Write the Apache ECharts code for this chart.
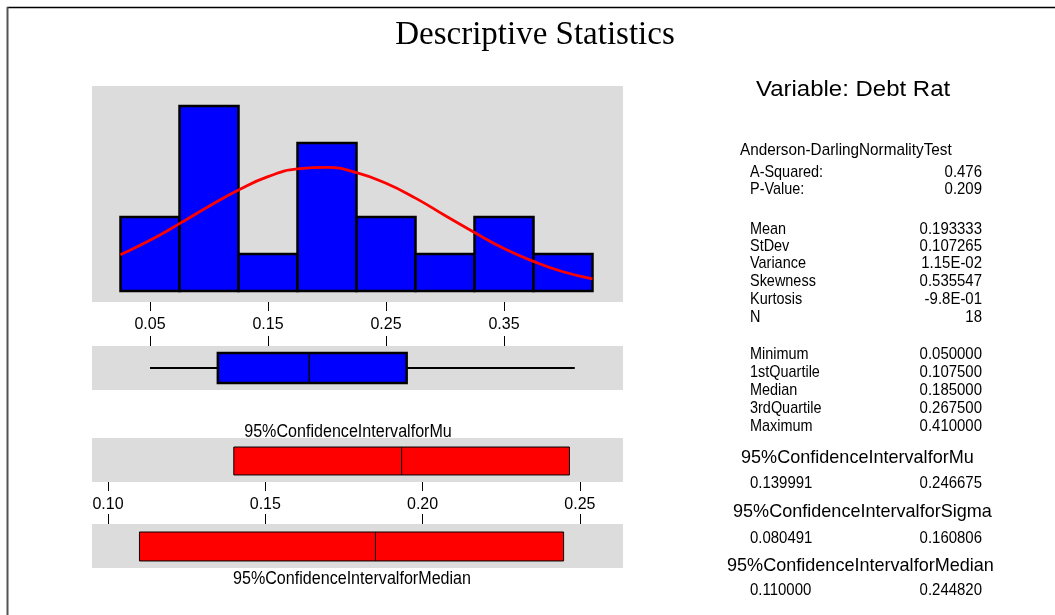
<!DOCTYPE html>
<html>
<head>
<meta charset="utf-8">
<title>Descriptive Statistics</title>
<script src="https://cdn.jsdelivr.net/npm/echarts@6.0.0/dist/echarts.min.js"></script>
<style>
  html, body { margin: 0; padding: 0; background: #fff; }
  #chart { width: 1055px; height: 615px; }
</style>
</head>
<body>
<div id="chart"></div>
<script>
// ---- data: Debt Rat sample (N = 18) ----
const binEdges  = [0.025, 0.075, 0.125, 0.175, 0.225, 0.275, 0.325, 0.375, 0.425];
const binCounts = [2, 5, 1, 4, 2, 1, 2, 1];

// fitted normal curve, expressed in counts per bin
const fitX = [0.025, 0.05, 0.075, 0.10, 0.125, 0.15, 0.175, 0.20, 0.225,
              0.25, 0.275, 0.30, 0.325, 0.35, 0.375, 0.40, 0.425];
const fitY = [0.98, 1.37, 1.82, 2.29, 2.73, 3.09, 3.30, 3.34, 3.20,
              2.91, 2.51, 2.04, 1.58, 1.15, 0.80, 0.52, 0.33];

const histTicks = [0.05, 0.15, 0.25, 0.35];
const ciTicks   = [0.10, 0.15, 0.20, 0.25];

// min, Q1, median, Q3, max
const boxStats   = [0.05, 0.1075, 0.185, 0.2675, 0.41];
// lower, centre, upper
const ciMu       = [0.139991, 0.193333, 0.246675];
const ciMedian   = [0.110000, 0.185000, 0.244820];

const titleText    = 'Descriptive Statistics';
const variableText = 'Variable: Debt Rat';
const adTitle      = 'Anderson-DarlingNormalityTest';
const adLabels     = ['A-Squared:', 'P-Value:'];
const adValues     = ['0.476', '0.209'];
const momentLabels = ['Mean', 'StDev', 'Variance', 'Skewness', 'Kurtosis', 'N'];
const momentValues = ['0.193333', '0.107265', '1.15E-02', '0.535547', '-9.8E-01', '18'];
const quantLabels  = ['Minimum', '1stQuartile', 'Median', '3rdQuartile', 'Maximum'];
const quantValues  = ['0.050000', '0.107500', '0.185000', '0.267500', '0.410000'];
const ciHeaders    = ['95%ConfidenceIntervalforMu', '95%ConfidenceIntervalforSigma', '95%ConfidenceIntervalforMedian'];
const ciBounds     = [['0.139991', '0.246675'], ['0.080491', '0.160806'], ['0.110000', '0.244820']];

// ---- drawing ----
const SANS = '"Liberation Sans", Arial, sans-serif';
const SERIF = '"Liberation Serif", "Times New Roman", serif';
const PANEL = '#DCDCDC';
const BLUE = '#0000FF';
const RED = '#FF0000';

// shared horizontal scales of the left-hand panels
const histMin = 0.05 - 58 / 1180, histMax = 0.05 + 473 / 1180;
const ciMin = 0.10 - 16 / 3146, ciMax = 0.10 + 515 / 3146;

function panelGrid(top, height) {
  return { left: 92, top: top, width: 531, height: height,
           show: true, backgroundColor: PANEL, borderWidth: 0 };
}

function xAxisFor(gridIndex, min, max, ticks, position, showLabels, tickLen) {
  return {
    type: 'value', gridIndex: gridIndex, min: min, max: max, position: position,
    axisLine: { show: false, onZero: false },
    splitLine: { show: false },
    axisTick: { show: true, length: tickLen, customValues: ticks,
                lineStyle: { color: '#000', width: 1 } },
    axisLabel: { show: showLabels, customValues: ticks, margin: 15,
                 fontSize: 16, fontFamily: SANS, color: '#000',
                 formatter: v => v.toFixed(2) }
  };
}

function yAxisFor(gridIndex, min, max) {
  return { type: 'value', gridIndex: gridIndex, min: min, max: max, show: false,
           splitLine: { show: false } };
}

function text(str, x, y, size, align, sx, family) {
  return {
    type: 'text', x: x, y: y, scaleX: sx || 1, silent: true,
    style: { text: str, fontSize: size, fontFamily: family || SANS, fill: '#000',
             align: align, textAlign: align,
             verticalAlign: 'middle', textVerticalAlign: 'middle' }
  };
}

// horizontal box drawn from [low, mid, high] or [min, q1, median, q3, max]
function horizontalBox(fill, border, midWidth, yLo, yHi, whiskers) {
  return function (params, api) {
    const n = whiskers ? 5 : 3;
    const v = [];
    for (let i = 0; i < n; i++) v.push(api.value(i));
    const lo = whiskers ? v[1] : v[0];
    const mid = whiskers ? v[2] : v[1];
    const hi = whiskers ? v[3] : v[2];
    const a = api.coord([lo, yHi]);
    const b = api.coord([hi, yLo]);
    const m1 = api.coord([mid, yHi]);
    const m2 = api.coord([mid, yLo]);
    const children = [];
    if (whiskers) {
      const w0 = api.coord([v[0], 0.5]);
      const w4 = api.coord([v[4], 0.5]);
      children.push({ type: 'line', shape: { x1: w0[0], y1: w0[1], x2: a[0], y2: w0[1] },
                      style: { stroke: '#000', lineWidth: 2 } });
      children.push({ type: 'line', shape: { x1: b[0], y1: w4[1], x2: w4[0], y2: w4[1] },
                      style: { stroke: '#000', lineWidth: 2 } });
    }
    children.push({ type: 'rect',
                    shape: { x: a[0], y: a[1], width: b[0] - a[0], height: b[1] - a[1] },
                    style: { fill: fill, stroke: '#000', lineWidth: border } });
    children.push({ type: 'line', shape: { x1: m1[0], y1: m1[1], x2: m2[0], y2: m2[1] },
                    style: { stroke: '#000', lineWidth: midWidth } });
    return { type: 'group', children: children };
  };
}

const histData = binCounts.map((c, i) => [binEdges[i], binEdges[i + 1], c]);
const fitData = fitX.map((x, i) => [x, fitY[i]]);

// frame, title and the statistics block on the right
const graphics = [];
graphics.push({ type: 'line', silent: true, shape: { x1: 7, y1: 7.5, x2: 1055, y2: 7.5 },
                style: { stroke: '#000', lineWidth: 1.5 } });
graphics.push({ type: 'line', silent: true, shape: { x1: 7.5, y1: 7, x2: 7.5, y2: 615 },
                style: { stroke: '#555', lineWidth: 2 } });
graphics.push(text(titleText, 535, 35, 33, 'center', 1, SERIF));
graphics.push(text(variableText, 756, 90, 22, 'left', 1.09));
graphics.push(text(adTitle, 740, 150, 17, 'left', 0.9));

const LX = 750, RX = 982, LABEL_SX = 0.85, VALUE_SX = 0.88;
const adRows = [172, 189];
adLabels.forEach((s, i) => {
  graphics.push(text(s, LX, adRows[i], 17, 'left', LABEL_SX));
  graphics.push(text(adValues[i], RX, adRows[i], 17, 'right', VALUE_SX));
});
const momentRows = [229, 246, 263, 281, 299, 317];
momentLabels.forEach((s, i) => {
  graphics.push(text(s, LX, momentRows[i], 17, 'left', LABEL_SX));
  graphics.push(text(momentValues[i], RX, momentRows[i], 17, 'right', VALUE_SX));
});
const quantRows = [354, 372, 390, 408, 426];
quantLabels.forEach((s, i) => {
  graphics.push(text(s, LX, quantRows[i], 17, 'left', LABEL_SX));
  graphics.push(text(quantValues[i], RX, quantRows[i], 17, 'right', VALUE_SX));
});
const ciHeadX = [741, 733, 727];
const ciHeadY = [458, 512, 566];
const ciValY = [483, 538, 590];
ciHeaders.forEach((s, i) => {
  graphics.push(text(s, ciHeadX[i], ciHeadY[i], 19, 'left', 0.95));
  graphics.push(text(ciBounds[i][0], LX, ciValY[i], 17, 'left', VALUE_SX));
  graphics.push(text(ciBounds[i][1], RX, ciValY[i], 17, 'right', VALUE_SX));
});

// captions of the two interval panels
graphics.push(text(ciHeaders[0], 348, 432, 17.5, 'center', 0.92));
graphics.push(text(ciHeaders[2], 352, 579, 17.5, 'center', 0.92));

const option = {
  animation: false,
  backgroundColor: '#fff',
  grid: [
    panelGrid(86, 216),   // histogram
    panelGrid(346, 44),   // boxplot
    panelGrid(438, 44),   // CI for mu
    panelGrid(524, 44)    // CI for median
  ],
  xAxis: [
    xAxisFor(0, histMin, histMax, histTicks, 'bottom', true, 9),
    xAxisFor(1, histMin, histMax, histTicks, 'top', false, 10),
    xAxisFor(2, ciMin, ciMax, ciTicks, 'bottom', true, 9),
    xAxisFor(3, ciMin, ciMax, ciTicks, 'top', false, 10)
  ],
  yAxis: [
    yAxisFor(0, -11 / 37, 205 / 37),
    yAxisFor(1, 0, 1),
    yAxisFor(2, 0, 1),
    yAxisFor(3, 0, 1)
  ],
  series: [
    {
      type: 'custom', name: 'Histogram', xAxisIndex: 0, yAxisIndex: 0,
      data: histData, z: 2,
      renderItem: function (params, api) {
        const p0 = api.coord([api.value(0), api.value(2)]);
        const p1 = api.coord([api.value(1), 0]);
        return { type: 'rect',
                 shape: { x: p0[0], y: p0[1], width: p1[0] - p0[0], height: p1[1] - p0[1] },
                 style: { fill: BLUE, stroke: '#000', lineWidth: 2.5 } };
      }
    },
    {
      type: 'line', name: 'Normal fit', xAxisIndex: 0, yAxisIndex: 0,
      data: fitData, smooth: true, showSymbol: false, symbol: 'none', z: 5,
      lineStyle: { color: RED, width: 2.8 }
    },
    {
      type: 'custom', name: 'Boxplot', xAxisIndex: 1, yAxisIndex: 1,
      data: [boxStats],
      renderItem: horizontalBox(BLUE, 2.5, 1.5, 0.16, 0.84, true)
    },
    {
      type: 'custom', name: 'CI Mu', xAxisIndex: 2, yAxisIndex: 2,
      data: [ciMu],
      renderItem: horizontalBox(RED, 1, 1, 0.16, 0.795, false)
    },
    {
      type: 'custom', name: 'CI Median', xAxisIndex: 3, yAxisIndex: 3,
      data: [ciMedian],
      renderItem: horizontalBox(RED, 1, 1, 0.16, 0.818, false)
    }
  ],
  graphic: { elements: graphics }
};

const chart = echarts.init(document.getElementById('chart'), null, { renderer: 'canvas' });
chart.setOption(option);
</script>
</body>
</html>
